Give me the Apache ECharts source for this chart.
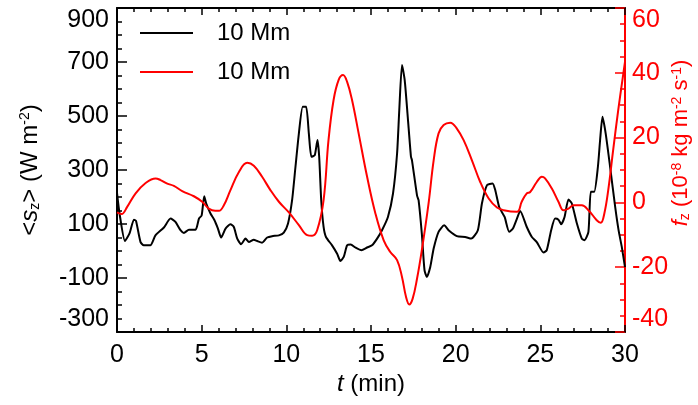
<!DOCTYPE html>
<html>
<head>
<meta charset="utf-8">
<script src="https://cdn.jsdelivr.net/npm/echarts@6/dist/echarts.min.js"></script>
<style>
  html, body { margin: 0; padding: 0; background: #fff; }
  #chart { width: 698px; height: 405px; }
</style>
</head>
<body>
<div id="chart"></div>
<script>
// black curve: <s_z> (W m^-2) vs t (min)
var tBlack = [0, 0.15, 0.47, 0.74, 1.0, 1.12, 1.39, 1.58, 1.97, 2.27, 2.77, 3.16, 3.45, 3.75, 3.95, 4.25, 4.64, 4.84, 5.0, 5.15,
  5.27, 5.52, 5.75, 5.95, 6.15, 6.41, 6.7, 6.9, 7.1, 7.33, 7.59, 7.79, 8.08, 8.28, 8.57, 8.87, 9.16, 9.56, 9.85, 10.1,
  10.34, 10.54, 10.74, 10.97, 11.17, 11.33, 11.48, 11.68, 11.84, 11.94, 12.06, 12.2, 12.34, 12.7, 13.0, 13.19, 13.39, 13.59, 13.8, 14.08,
  14.43, 14.77, 15.06, 15.36, 15.65, 16.0, 16.3, 16.54, 16.67, 16.83, 16.99, 17.17, 17.36, 17.42, 17.72, 17.81, 18.0, 18.16, 18.3, 18.5,
  18.7, 18.99, 19.32, 19.58, 20.07, 20.56, 20.92, 21.31, 21.55, 21.85, 22.18, 22.34, 22.57, 22.89, 23.16, 23.38, 23.62, 23.81, 24.2, 24.5,
  24.79, 25.19, 25.38, 25.64, 25.87, 26.07, 26.23, 26.43, 26.66, 26.86, 27.16, 27.45, 27.61, 27.84, 27.98, 28.18, 28.4, 28.53, 28.67, 28.86,
  29.12, 29.42, 29.62, 29.81, 30.0];
var sz = [215, 139, 37, 65, 116, 112, 33, 21, 21, 58, 87, 120, 108, 77, 67, 79, 79, 120, 132, 203,
  176, 139, 115, 85, 50, 83, 99, 89, 46, 25, 46, 33, 42, 37, 31, 50, 55, 58, 68, 102,
  188, 312, 435, 534, 534, 435, 349, 355, 411, 349, 188, 89, 52, 21, -10, -37, -22, 21, 24, 13,
  3, 13, 21, 46, 77, 126, 213, 361, 522, 689, 633, 497, 349, 336, 205, 188, 65, -71, -96, -59,
  9, 71, 95, 77, 55, 52, 46, 77, 176, 244, 250, 225, 163, 126, 71, 83, 120, 148, 89, 52,
  33, -6, 3, 77, 120, 116, 99, 126, 191, 176, 102, 46, 40, 71, 219, 219, 312, 411, 497, 435,
  312, 163, 77, 15, -60];

// red curve: f_z (10^-8 kg m^-2 s^-1) vs t (min)
var tRed = [0, 0.27, 0.6, 1.1, 1.69, 2.28, 2.57, 2.97, 3.36, 3.85, 4.54, 5.03, 5.42, 5.8, 6.02, 6.31, 6.7, 7.2, 7.69, 8.08,
  8.57, 9.06, 9.56, 10.15, 10.74, 11.23, 11.52, 11.82, 12.2, 12.49, 12.79, 13.09, 13.35, 13.59, 13.88, 14.27, 14.77, 15.26, 15.75, 16.14,
  16.54, 16.83, 17.07, 17.26, 17.46, 17.72, 18.0, 18.4, 18.7, 18.99, 19.29, 19.68, 20.07, 20.47, 20.96, 21.45, 21.95, 22.44, 22.83, 23.62,
  23.9, 24.2, 24.4, 24.79, 25.09, 25.28, 25.68, 26.07, 26.37, 26.66, 26.96, 27.45, 27.84, 28.33, 28.57, 28.78, 29.01, 29.3, 29.6, 30];
var fz = [-3.1, -3.6, -1.4, 2.8, 6.0, 7.4, 6.9, 5.8, 5.1, 3.5, 1.9, 0.2, -1.9, -2.6, -2.6, -0.9, 3.8, 9.4, 12.2, 11.3,
  7.9, 3.8, 0.2, -3.1, -7.0, -10.1, -10.3, -8.6, 0.7, 19.2, 31.6, 37.8, 39.3, 37.2, 31.6, 21.3, 7.9, -3.4, -11.7, -15.3,
  -17.8, -23.0, -29.2, -31.5, -29.7, -23.5, -14.8, -0.3, 13.0, 21.3, 23.9, 24.6, 22.8, 19.2, 13.0, 6.3, 1.2, -1.6, -2.4, -2.9,
  0.2, 2.8, 3.2, 6.3, 7.9, 7.4, 4.3, 0.2, -2.4, -1.9, -0.9, -0.9, -2.4, -5.5, -6.3, -3.4, 3.8, 16.1, 28.5, 43.4];

var legendLabel = "10 Mm";

function pairs(xs, ys) {
  return xs.map(function (x, i) { return [x, ys[i]]; });
}

var font = "'Liberation Sans', Arial, Helvetica, sans-serif";
var chart = echarts.init(document.getElementById("chart"));

function richFor(color, size) {
  return {
    a: { fontSize: size, color: color, fontFamily: font },
    i: { fontSize: size, color: color, fontFamily: font, fontStyle: "italic" },
    sub: { fontSize: 14, color: color, fontFamily: font, verticalAlign: "bottom", lineHeight: 22 },
    sup: { fontSize: 14, color: color, fontFamily: font, verticalAlign: "top", lineHeight: 22 }
  };
}

function xAxisBase(pos) {
  return {
    type: "value",
    position: pos,
    min: 0,
    max: 30,
    interval: 5,
    axisLine: { onZero: false, lineStyle: { color: "#000", width: 2 } },
    axisTick: { inside: true, length: 7, lineStyle: { color: "#000", width: 1.5 } },
    minorTick: { show: true, splitNumber: 5, length: 4, lineStyle: { color: "#000", width: 1.5 } },
    splitLine: { show: false },
    axisLabel: { show: pos === "bottom", color: "#000", fontSize: 25, fontFamily: font, margin: 11 }
  };
}

var option = {
  animation: false,
  grid: { left: 117, right: 73, top: 8, bottom: 73, outerBoundsMode: "none", containLabel: false },
  legend: {
    orient: "vertical",
    left: 140,
    top: 21,
    padding: 0,
    icon: "rect",
    itemWidth: 53,
    itemHeight: 2,
    itemGap: 15,
    data: ["black", "red"],
    formatter: function () { return legendLabel; },
    textStyle: { color: "#000", fontSize: 24, fontFamily: font, padding: [0, 0, 0, 19] }
  },
  xAxis: [
    Object.assign(xAxisBase("bottom"), {
      name: "{i|t}{a| (min)}",
      nameLocation: "middle",
      nameGap: 40,
      nameMoveOverlap: false,
      nameTextStyle: { rich: richFor("#000", 24) }
    }),
    xAxisBase("top")
  ],
  yAxis: [
    {
      type: "value",
      position: "left",
      min: -300,
      max: 900,
      interval: 200,
      name: "{a|<}{i|s}{sub|z}{a|> (W m}{sup|-2}{a|)}",
      nameLocation: "middle",
      nameRotate: 90,
      nameGap: 75,
      nameMoveOverlap: false,
      nameTextStyle: { rich: richFor("#000", 24) },
      axisLine: { show: true, onZero: false, lineStyle: { color: "#000", width: 2 } },
      axisTick: { show: true, inside: true, length: 10, lineStyle: { color: "#000", width: 1.5 } },
      minorTick: { show: true, splitNumber: 4, length: 5, lineStyle: { color: "#000", width: 1.5 } },
      splitLine: { show: false },
      axisLabel: {
        color: "#000", fontSize: 25, fontFamily: font, margin: 8,
        verticalAlignMinLabel: "bottom", verticalAlignMaxLabel: "top"
      }
    },
    {
      type: "value",
      position: "right",
      min: -40,
      max: 60,
      interval: 20,
      name: "{i|f}{sub|z}{a| (10}{sup|-8}{a| kg m}{sup|-2}{a| s}{sup|-1}{a|)}",
      nameLocation: "middle",
      nameRotate: 90,
      nameGap: 45,
      nameMoveOverlap: false,
      nameTextStyle: { rich: richFor("#ff0000", 22), padding: [0, 0, 0, 54] },
      axisLine: { show: true, onZero: false, lineStyle: { color: "#ff0000", width: 2 } },
      axisTick: { show: true, inside: true, length: 10, lineStyle: { color: "#ff0000", width: 1.5 } },
      minorTick: { show: true, splitNumber: 4, length: 5, lineStyle: { color: "#ff0000", width: 1.5 } },
      splitLine: { show: false },
      axisLabel: {
        color: "#ff0000", fontSize: 25, fontFamily: font, margin: 7,
        verticalAlignMinLabel: "bottom", verticalAlignMaxLabel: "top"
      }
    }
  ],
  series: [
    {
      name: "black",
      type: "line",
      xAxisIndex: 0,
      yAxisIndex: 0,
      data: pairs(tBlack, sz),
      symbol: "none",
      smooth: 0.2,
      lineStyle: { color: "#000", width: 2 },
      itemStyle: { color: "#000" }
    },
    {
      name: "red",
      type: "line",
      xAxisIndex: 0,
      yAxisIndex: 1,
      data: pairs(tRed, fz),
      symbol: "none",
      smooth: 0.4,
      lineStyle: { color: "#ff0000", width: 2 },
      itemStyle: { color: "#ff0000" }
    }
  ]
};

chart.setOption(option);
window.addEventListener("resize", function () {
  chart.resize();
});
</script>
</body>
</html>
